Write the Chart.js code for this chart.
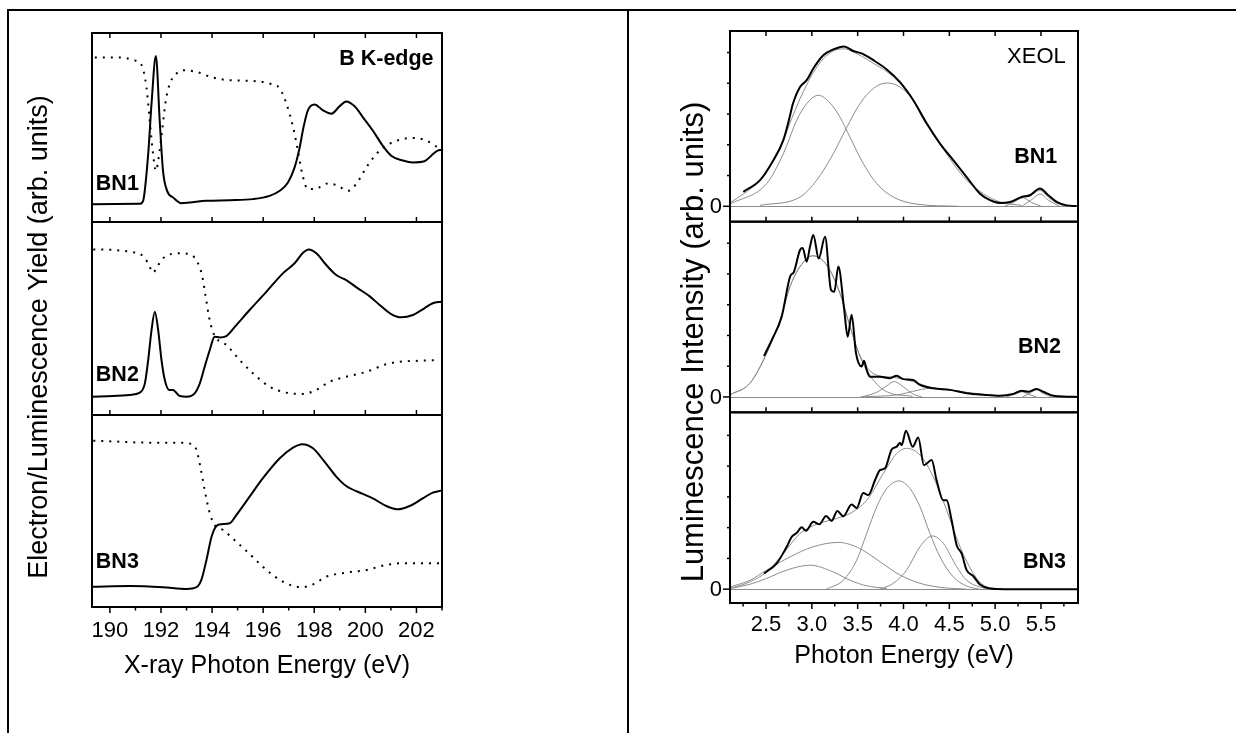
<!DOCTYPE html>
<html>
<head>
<meta charset="utf-8">
<title>B K-edge XAS / XEOL</title>
<script src="https://cdn.jsdelivr.net/npm/chart.js@4.4.1/dist/chart.umd.min.js"></script>
<style>
    html, body { margin: 0; padding: 0; background: #fff; }
    body { width: 1236px; height: 733px; position: relative; overflow: hidden; }
    .rule { position: absolute; background: #000; }
    #xas { position: absolute; left: 0; top: 0; }
    #xeol { position: absolute; left: 630px; top: 0; }
</style>
</head>
<body>
<div class="rule" style="left:7px;top:9px;width:1229px;height:2px"></div>
<div class="rule" style="left:7px;top:9px;width:2px;height:724px"></div>
<div class="rule" style="left:627px;top:9px;width:2px;height:724px"></div>
<canvas id="xas" width="620" height="733"></canvas>
<canvas id="xeol" width="606" height="733"></canvas>
<script>
// ---- left: B K-edge yields (arb. units, 0-100 per panel) ----
const xasTicks = [190, 192, 194, 196, 198, 200, 202];
const xasTickLabels = ['190', '192', '194', '196', '198', '200', '202'];
const xasMinor = [191, 193, 195, 197, 199, 201, 203];

const bn1TeyE = [189.28, 191.17, 191.30, 191.50, 191.63, 191.80, 191.95, 192.08, 192.24, 192.48, 192.80, 193.13, 193.78, 194.69, 195.60, 196.25, 196.65, 196.97, 197.23, 197.43, 197.58, 197.75, 198.01, 198.34, 198.67, 198.99, 199.25, 199.58, 199.90, 200.29, 200.68, 201.01, 201.47, 201.86, 202.31, 202.58, 202.83, 202.97];
const bn1Tey = [9.4, 9.6, 11.2, 36.0, 62.6, 87.8, 53.7, 27.1, 16.5, 12.9, 9.9, 10.3, 11.2, 11.5, 12.1, 13.8, 16.5, 20.9, 28.9, 39.5, 50.2, 59.1, 62.2, 59.1, 57.3, 61.2, 63.8, 61.2, 55.5, 48.4, 40.4, 35.1, 32.5, 31.5, 32.1, 35.1, 37.8, 38.1];
const bn1TlyE = [189.41, 190.39, 190.91, 191.24, 191.43, 191.56, 191.69, 191.80, 191.93, 192.06, 192.19, 192.35, 192.61, 192.87, 193.39, 194.04, 194.69, 195.60, 196.25, 196.65, 196.91, 197.17, 197.36, 197.53, 197.75, 198.01, 198.53, 198.92, 199.32, 199.64, 200.04, 200.43, 200.82, 201.34, 201.86, 202.38, 202.83];
const bn1Tly = [87.1, 87.1, 85.7, 83.0, 71.4, 53.7, 36.0, 27.1, 36.0, 50.2, 64.4, 73.3, 78.6, 80.3, 79.4, 76.4, 75.0, 74.6, 73.3, 70.6, 62.6, 50.2, 37.8, 25.4, 17.4, 17.4, 20.4, 19.2, 16.5, 20.1, 28.9, 36.0, 40.4, 43.5, 44.5, 43.1, 39.5];

const bn2TeyE = [189.32, 190.13, 190.78, 191.17, 191.37, 191.50, 191.63, 191.76, 191.89, 192.02, 192.15, 192.32, 192.47, 192.74, 193.00, 193.32, 193.52, 193.71, 193.91, 194.10, 194.30, 194.56, 194.95, 195.47, 196.13, 196.77, 197.23, 197.56, 197.79, 198.08, 198.47, 198.86, 199.25, 199.71, 200.16, 200.56, 201.01, 201.40, 201.86, 202.31, 202.64, 202.97];
const bn2Tey = [9.5, 9.8, 10.4, 11.6, 16.4, 28.5, 44.0, 53.5, 44.0, 28.5, 18.1, 13.0, 13.0, 9.8, 9.5, 11.2, 16.4, 25.0, 33.7, 40.6, 40.2, 40.9, 46.6, 54.4, 63.9, 73.4, 78.6, 84.1, 85.8, 83.8, 77.7, 72.5, 69.9, 65.6, 61.6, 57.0, 52.3, 50.6, 51.8, 55.3, 57.9, 58.7];
const bn2TlyE = [189.35, 190.13, 190.78, 191.24, 191.50, 191.69, 191.85, 192.08, 192.74, 193.19, 193.45, 193.62, 193.75, 193.88, 194.01, 194.17, 194.56, 195.08, 195.60, 196.25, 196.91, 197.56, 198.08, 198.60, 199.25, 200.04, 200.82, 201.34, 202.12, 202.90];
const bn2Tly = [85.8, 85.5, 84.6, 82.9, 78.6, 73.7, 76.8, 81.2, 83.8, 82.9, 78.6, 71.6, 61.3, 50.9, 44.0, 39.7, 36.3, 28.5, 21.6, 14.7, 11.6, 10.9, 13.0, 17.2, 19.8, 22.4, 26.3, 27.6, 28.1, 28.5];

const bn3TeyE = [189.32, 190.78, 192.08, 193.00, 193.39, 193.58, 193.78, 193.98, 194.17, 194.37, 194.69, 194.95, 195.47, 195.99, 196.65, 197.17, 197.53, 197.95, 198.40, 198.86, 199.25, 199.90, 200.29, 200.82, 201.27, 201.73, 202.25, 202.64, 202.97];
const bn3Tey = [10.6, 10.9, 10.3, 9.4, 10.3, 14.1, 24.5, 36.6, 42.2, 43.1, 43.6, 47.9, 57.5, 67.1, 77.5, 83.0, 84.8, 82.7, 75.7, 67.9, 63.0, 58.9, 56.6, 52.6, 50.9, 52.6, 56.6, 59.6, 60.6];
const bn3TlyE = [189.35, 190.39, 191.43, 192.74, 193.19, 193.39, 193.54, 193.71, 193.91, 194.10, 194.43, 194.95, 195.47, 196.13, 196.77, 197.49, 197.95, 198.47, 199.25, 200.04, 200.82, 201.47, 202.38, 202.90];
const bn3Tly = [86.6, 86.1, 85.6, 85.6, 84.9, 81.8, 73.1, 61.0, 48.8, 42.7, 40.1, 34.0, 27.6, 19.3, 13.2, 10.3, 11.8, 15.8, 17.9, 19.3, 21.9, 22.8, 22.8, 22.8];

// ---- right: XEOL spectra and gaussian components ----
const xeolTicks = [2.5, 3.0, 3.5, 4.0, 4.5, 5.0, 5.5];
const xeolTickLabels = ['2.5', '3.0', '3.5', '4.0', '4.5', '5.0', '5.5'];
const xeolMinor = [2.25, 2.75, 3.25, 3.75, 4.25, 4.75, 5.25, 5.75];
const xeolYTicks = [0, 1, 2, 3, 4, 5];

const xeol1E = [2.252, 2.435, 2.580, 2.689, 2.762, 2.790, 2.871, 2.944, 3.016, 3.125, 3.234, 3.351, 3.452, 3.544, 3.671, 3.817, 3.962, 4.107, 4.253, 4.398, 4.543, 4.689, 4.834, 4.944, 5.053, 5.162, 5.289, 5.380, 5.489, 5.580, 5.671, 5.780, 5.889];
const xeol1 = [0.47, 0.85, 1.50, 2.15, 2.95, 3.30, 3.88, 4.10, 4.48, 4.91, 5.10, 5.20, 5.05, 4.97, 4.75, 4.45, 4.04, 3.45, 2.69, 2.04, 1.50, 0.95, 0.41, 0.20, 0.11, 0.14, 0.30, 0.36, 0.58, 0.36, 0.14, 0.03, 0.01];
const fit1E = [2.107, 2.252, 2.435, 2.580, 2.689, 2.780, 2.871, 2.944, 3.016, 3.125, 3.234, 3.351, 3.452, 3.544, 3.671, 3.817, 3.962, 4.107, 4.253, 4.398, 4.543, 4.689, 4.834, 4.944, 5.053, 5.162, 5.289, 5.380, 5.489, 5.580, 5.671, 5.780, 5.900];
const fit1 = [0.11, 0.40, 0.85, 1.50, 2.15, 2.85, 3.50, 3.95, 4.35, 4.80, 5.05, 5.12, 5.02, 4.88, 4.65, 4.38, 4.00, 3.45, 2.72, 2.05, 1.48, 0.95, 0.45, 0.20, 0.10, 0.12, 0.28, 0.34, 0.52, 0.30, 0.10, 0.02, 0.00];
const g1aE = [2.107, 2.507, 2.689, 2.835, 2.944, 3.071, 3.198, 3.307, 3.416, 3.561, 3.708, 3.889, 4.144, 4.600];
const g1a = [0.07, 0.74, 1.71, 2.80, 3.34, 3.61, 3.36, 2.90, 2.25, 1.39, 0.74, 0.30, 0.07, 0.00];
const g1bE = [2.435, 2.871, 3.053, 3.234, 3.380, 3.525, 3.671, 3.817, 3.962, 4.107, 4.253, 4.398, 4.543, 4.689, 4.871, 5.053, 5.290];
const g1b = [0.03, 0.30, 0.85, 1.71, 2.56, 3.34, 3.83, 4.01, 3.88, 3.45, 2.74, 2.04, 1.39, 0.85, 0.41, 0.14, 0.03];
const g1cE = [5.10, 5.20, 5.30, 5.40, 5.50];
const g1c = [0.00, 0.12, 0.28, 0.12, 0.00];
const g1dE = [5.30, 5.40, 5.49, 5.58, 5.70];
const g1d = [0.02, 0.22, 0.40, 0.20, 0.00];

const xeol2E = [2.478, 2.562, 2.671, 2.762, 2.805, 2.871, 2.900, 2.944, 2.980, 3.016, 3.075, 3.144, 3.209, 3.245, 3.289, 3.351, 3.391, 3.434, 3.482, 3.544, 3.569, 3.598, 3.634, 3.744, 3.853, 3.925, 3.998, 4.107, 4.180, 4.325, 4.507, 4.689, 4.871, 5.053, 5.198, 5.289, 5.362, 5.453, 5.525, 5.635, 5.780, 5.900];
const xeol2 = [1.33, 1.85, 2.61, 3.91, 4.07, 4.78, 4.84, 4.40, 4.89, 5.27, 4.50, 5.21, 3.48, 3.42, 4.24, 2.90, 1.96, 2.67, 1.42, 0.99, 1.18, 0.88, 0.66, 0.66, 0.61, 0.69, 0.58, 0.55, 0.39, 0.28, 0.23, 0.12, 0.07, 0.04, 0.10, 0.20, 0.17, 0.26, 0.17, 0.04, 0.01, 0.00];
const fit2E = [2.107, 2.325, 2.507, 2.653, 2.762, 2.871, 3.009, 3.162, 3.307, 3.416, 3.525, 3.634, 3.744, 3.853, 3.962, 4.107, 4.289, 4.507, 4.689, 4.871, 5.053, 5.200, 5.290, 5.360, 5.450, 5.530, 5.650, 5.900];
const fit2 = [0.07, 0.45, 1.42, 2.50, 3.59, 4.24, 4.59, 4.29, 3.37, 2.30, 1.35, 0.85, 0.68, 0.65, 0.60, 0.50, 0.32, 0.22, 0.13, 0.06, 0.04, 0.08, 0.18, 0.15, 0.24, 0.16, 0.03, 0.00];
const g2aE = [2.107, 2.325, 2.507, 2.653, 2.762, 2.871, 3.009, 3.162, 3.307, 3.416, 3.525, 3.671, 3.817, 4.100];
const g2a = [0.07, 0.45, 1.42, 2.50, 3.59, 4.24, 4.59, 4.29, 3.37, 2.29, 1.31, 0.55, 0.17, 0.02];
const g2bE = [3.544, 3.708, 3.817, 3.900, 3.998, 4.107, 4.200];
const g2b = [0.00, 0.15, 0.36, 0.50, 0.33, 0.09, 0.00];
const g2cE = [3.530, 3.960, 4.100, 4.289, 4.500, 4.689, 5.050];
const g2c = [0.00, 0.08, 0.18, 0.28, 0.24, 0.15, 0.03];
const g2dE = [5.12, 5.22, 5.29, 5.36, 5.45];
const g2d = [0.00, 0.09, 0.17, 0.09, 0.00];
const g2eE = [5.30, 5.38, 5.45, 5.52, 5.62];
const g2e = [0.00, 0.12, 0.24, 0.12, 0.00];

const xeol3E = [2.478, 2.617, 2.726, 2.780, 2.835, 2.889, 2.936, 3.016, 3.082, 3.155, 3.216, 3.278, 3.343, 3.434, 3.489, 3.561, 3.616, 3.689, 3.744, 3.798, 3.871, 3.925, 3.962, 3.980, 4.027, 4.100, 4.161, 4.223, 4.307, 4.361, 4.434, 4.471, 4.525, 4.580, 4.634, 4.689, 4.762, 4.834, 4.944, 5.100, 5.900];
const xeol3 = [0.51, 0.84, 1.38, 1.70, 1.83, 2.01, 1.90, 2.19, 2.11, 2.38, 2.22, 2.54, 2.37, 2.75, 2.64, 3.13, 3.06, 3.54, 3.87, 3.93, 4.54, 4.63, 4.76, 4.68, 5.15, 4.63, 4.93, 4.03, 4.20, 3.54, 2.89, 2.89, 2.24, 1.43, 1.16, 0.62, 0.42, 0.15, 0.02, 0.00, 0.00];
const fit3E = [2.107, 2.325, 2.507, 2.689, 2.871, 3.053, 3.234, 3.416, 3.598, 3.780, 3.925, 4.034, 4.180, 4.325, 4.471, 4.616, 4.762, 4.871, 5.050];
const fit3 = [0.02, 0.24, 0.56, 1.16, 1.81, 2.11, 2.27, 2.46, 2.89, 3.76, 4.41, 4.58, 4.36, 3.65, 2.57, 1.38, 0.51, 0.13, 0.00];
const g3aE = [2.107, 2.325, 2.507, 2.726, 2.980, 3.234, 3.416, 3.598, 3.820];
const g3a = [0.02, 0.16, 0.35, 0.62, 0.78, 0.56, 0.29, 0.11, 0.02];
const g3bE = [2.107, 2.325, 2.507, 2.762, 3.016, 3.289, 3.525, 3.744, 3.962, 4.180, 4.398, 4.690];
const g3b = [0.07, 0.29, 0.62, 1.05, 1.38, 1.52, 1.32, 0.89, 0.46, 0.19, 0.06, 0.00];
const g3cE = [3.160, 3.343, 3.489, 3.598, 3.708, 3.817, 3.951, 4.071, 4.180, 4.289, 4.398, 4.543, 4.689, 4.830];
const g3c = [0.00, 0.29, 0.94, 1.81, 2.68, 3.27, 3.52, 3.27, 2.68, 1.81, 1.05, 0.40, 0.10, 0.00];
const g3dE = [3.740, 3.889, 4.034, 4.180, 4.314, 4.434, 4.580, 4.689, 4.834, 4.980];
const g3d = [0.00, 0.19, 0.62, 1.38, 1.73, 1.49, 0.73, 0.29, 0.07, 0.00];

const FONT = "'Liberation Sans', Arial, sans-serif";
Chart.defaults.font.family = FONT;
Chart.defaults.color = '#000';

function line(xs, ys, axis, style) {
    return Object.assign({
        data: xs.map(function (x, i) { return {x: x, y: ys[i]}; }),
        yAxisID: axis,
        pointRadius: 0,
        fill: false,
        cubicInterpolationMode: 'monotone'
    }, style);
}
const solid = {borderColor: '#000', borderWidth: 2};
const dotted = {borderColor: '#000', borderWidth: 2, borderDash: [2, 6]};
const thick = {borderColor: '#000', borderWidth: 2};
const thin = {borderColor: '#8c8c8c', borderWidth: 1};

// boxes, inward ticks and the annotation texts
const panelFrame = {
    id: 'panelFrame',
    beforeDatasetsDraw: function (chart, args, o) {
        if (!o.zeroLine) return;
        const ctx = chart.ctx, a = chart.chartArea;
        ctx.save();
        ctx.strokeStyle = '#8c8c8c';
        ctx.lineWidth = 1;
        o.panels.forEach(function (id) {
            const y = Math.round(chart.scales[id].getPixelForValue(0)) + 0.5;
            ctx.beginPath(); ctx.moveTo(a.left, y); ctx.lineTo(a.right, y); ctx.stroke();
        });
        ctx.restore();
    },
    afterDatasetsDraw: function (chart, args, o) {
        const ctx = chart.ctx, a = chart.chartArea, xs = chart.scales.x;
        ctx.save();
        ctx.strokeStyle = '#000';
        ctx.lineWidth = 2;
        o.panels.forEach(function (id) {
            const s = chart.scales[id];
            ctx.strokeRect(a.left, s.top, a.right - a.left, s.bottom - s.top);
        });
        ctx.lineWidth = 1.5;
        function xt(v, y, len) {
            const x = xs.getPixelForValue(v);
            ctx.beginPath(); ctx.moveTo(x, y); ctx.lineTo(x, y + len); ctx.stroke();
        }
        o.majors.forEach(function (v) {
            xt(v, a.top, 5);
            o.panels.slice(0, -1).forEach(function (id) { xt(v, chart.scales[id].bottom, -5); });
            xt(v, a.bottom, 6);
        });
        o.minors.forEach(function (v) { xt(v, a.bottom, 3.5); });

        if (o.yTicks) {
            ctx.fillStyle = '#000';
            ctx.font = '22px ' + FONT;
            ctx.textAlign = 'right';
            ctx.textBaseline = 'middle';
            o.panels.forEach(function (id) {
                const s = chart.scales[id];
                o.yTicks.forEach(function (v) {
                    const y = s.getPixelForValue(v);
                    const len = v === 0 ? 7 : 3;
                    ctx.beginPath(); ctx.moveTo(a.left, y); ctx.lineTo(a.left - len, y); ctx.stroke();
                    if (v === 0) ctx.fillText('0', a.left - 8, y + 1);
                });
            });
        }
        ctx.restore();
    },
    afterDraw: function (chart, args, o) {
        const ctx = chart.ctx, xs = chart.scales.x;
        ctx.save();
        ctx.fillStyle = '#000';
        ctx.textBaseline = 'middle';
        o.labels.forEach(function (l) {
            ctx.font = (l.bold ? 'bold ' : '') + l.size + 'px ' + FONT;
            ctx.textAlign = l.align;
            ctx.fillText(l.text, xs.getPixelForValue(l.x), chart.scales[l.axis].getPixelForValue(l.y));
        });
        const t = o.yTitle;
        ctx.font = t.size + 'px ' + FONT;
        ctx.textAlign = 'center';
        ctx.translate(t.x, t.y);
        ctx.rotate(-Math.PI / 2);
        ctx.fillText(t.text, 0, 0);
        ctx.restore();
    }
};

function xAxis(min, max, ticks, labels, title, pad, height) {
    return {
        type: 'linear', position: 'bottom', min: min, max: max,
        grid: {display: false, drawTicks: false},
        border: {display: false},
        afterBuildTicks: function (s) { s.ticks = ticks.map(function (v) { return {value: v}; }); },
        afterFit: function (s) { s.height = height; },
        ticks: {
            autoSkip: false, maxRotation: 0, padding: pad,
            font: {size: 22},
            callback: function (v, i) { return labels[i]; }
        },
        title: {display: true, text: title, font: {size: 25}, padding: 0}
    };
}
function yPanel(stack, weight, min, max) {
    return {type: 'linear', display: false, position: 'left', stack: stack, stackWeight: weight, min: min, max: max};
}
const base = {
    responsive: false,
    animation: false,
    devicePixelRatio: 1,
    plugins: {legend: {display: false}, tooltip: {enabled: false}}
};

new Chart(document.getElementById('xas'), {
    type: 'line',
    data: {
        datasets: [
            line(bn1TeyE, bn1Tey, 'yA', solid),
            line(bn1TlyE, bn1Tly, 'yA', dotted),
            line(bn2TeyE, bn2Tey, 'yB', solid),
            line(bn2TlyE, bn2Tly, 'yB', dotted),
            line(bn3TeyE, bn3Tey, 'yC', solid),
            line(bn3TlyE, bn3Tly, 'yC', dotted)
        ]
    },
    options: Object.assign({}, base, {
        layout: {padding: {left: 92, right: 178, top: 33, bottom: 52}},
        plugins: Object.assign({}, base.plugins, {
            panelFrame: {
                panels: ['yA', 'yB', 'yC'],
                majors: xasTicks, minors: xasMinor,
                labels: [
                    {text: 'B K-edge', axis: 'yA', x: 202.67, y: 86.0, align: 'right', bold: true, size: 21.5},
                    {text: 'BN1', axis: 'yA', x: 189.45, y: 20.1, align: 'left', bold: true, size: 21.5},
                    {text: 'BN2', axis: 'yB', x: 189.45, y: 20.7, align: 'left', bold: true, size: 21.5},
                    {text: 'BN3', axis: 'yC', x: 189.45, y: 23.6, align: 'left', bold: true, size: 21.5}
                ],
                yTitle: {text: 'Electron/Luminescence Yield (arb. units)', x: 40, y: 337, size: 27}
            }
        }),
        scales: {
            x: xAxis(189.3, 203.0, xasTicks, xasTickLabels, 'X-ray Photon Energy (eV)', 11, 74),
            yC: yPanel('xas', 192, 0, 100),
            yB: yPanel('xas', 193, 0, 100),
            yA: yPanel('xas', 189, 0, 100)
        }
    }),
    plugins: [panelFrame]
});

new Chart(document.getElementById('xeol'), {
    type: 'line',
    data: {
        datasets: [
            line(xeol1E, xeol1, 'yA', thick),
            line(xeol2E, xeol2, 'yB', thick),
            line(xeol3E, xeol3, 'yC', thick),
            line(fit1E, fit1, 'yA', thin),
            line(g1aE, g1a, 'yA', thin),
            line(g1bE, g1b, 'yA', thin),
            line(g1cE, g1c, 'yA', thin),
            line(g1dE, g1d, 'yA', thin),
            line(fit2E, fit2, 'yB', thin),
            line(g2aE, g2a, 'yB', thin),
            line(g2bE, g2b, 'yB', thin),
            line(g2cE, g2c, 'yB', thin),
            line(g2dE, g2d, 'yB', thin),
            line(g2eE, g2e, 'yB', thin),
            line(fit3E, fit3, 'yC', thin),
            line(g3aE, g3a, 'yC', thin),
            line(g3bE, g3b, 'yC', thin),
            line(g3cE, g3c, 'yC', thin),
            line(g3dE, g3d, 'yC', thin)
        ]
    },
    options: Object.assign({}, base, {
        layout: {padding: {left: 100, right: 158, top: 31, bottom: 62}},
        plugins: Object.assign({}, base.plugins, {
            panelFrame: {
                panels: ['yA', 'yB', 'yC'],
                zeroLine: true,
                majors: xeolTicks, minors: xeolMinor, yTicks: xeolYTicks,
                labels: [
                    {text: 'XEOL', axis: 'yA', x: 5.771, y: 4.86, align: 'right', bold: false, size: 22},
                    {text: 'BN1', axis: 'yA', x: 5.678, y: 1.60, align: 'right', bold: true, size: 21.5},
                    {text: 'BN2', axis: 'yB', x: 5.718, y: 1.62, align: 'right', bold: true, size: 21.5},
                    {text: 'BN3', axis: 'yC', x: 5.773, y: 0.89, align: 'right', bold: true, size: 21.5}
                ],
                yTitle: {text: 'Luminescence Intensity (arb. units)', x: 64, y: 342, size: 31}
            }
        }),
        scales: {
            x: xAxis(2.107, 5.904, xeolTicks, xeolTickLabels, 'Photon Energy (eV)', 9, 68),
            yC: yPanel('xeol', 1, -0.45, 5.75),
            yB: yPanel('xeol', 1, -0.5, 5.7),
            yA: yPanel('xeol', 1, -0.5, 5.7)
        }
    }),
    plugins: [panelFrame]
});
</script>
</body>
</html>
